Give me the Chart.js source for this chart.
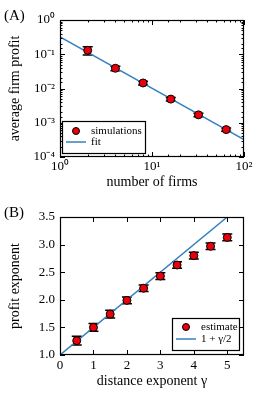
<!DOCTYPE html>
<html>
<head>
<meta charset="utf-8">
<script src="https://cdn.jsdelivr.net/npm/chart.js@4/dist/chart.umd.min.js"></script>
<style>
body{margin:0;background:#fff;width:260px;height:395px;position:relative;overflow:hidden;font-family:"Liberation Serif",serif}
.panel{position:absolute;left:0;width:260px}
.lab{position:absolute;left:4px;font-size:15px;line-height:15px}
</style>
</head>
<body>
<div class="panel" style="top:0;height:197px"><canvas id="chartA" width="260" height="197"></canvas></div>
<div class="panel" style="top:197px;height:198px"><canvas id="chartB" width="260" height="198"></canvas></div>
<div class="lab" style="top:8px">(A)</div>
<div class="lab" style="top:205px">(B)</div>
<script>
// panel A: profit vs number of firms
let firms = [2, 4, 8, 16, 32, 64]
let profit = [0.13, 0.039, 0.0145, 0.0049, 0.0017, 0.00063]
let profitErr = [0.035, 0.006, 0.0018, 0.0006, 0.0002, 0.00007]
let fitX = [1, 100]
let fitY = [0.32, 0.00032]

// panel B: profit exponent vs distance exponent
let gammas = [0.5, 1, 1.5, 2, 2.5, 3, 3.5, 4, 4.5, 5]
let exponent = [1.26, 1.5, 1.74, 1.99, 2.21, 2.43, 2.63, 2.8, 2.97, 3.13]
let exponentErr = [0.08, 0.07, 0.07, 0.06, 0.06, 0.06, 0.06, 0.06, 0.06, 0.06]
let lineGamma = [0, 5]
let lineValue = [1, 3.5]

const RED = '#e8000b'
const BLUE = '#3580c0'
Chart.defaults.font.family = '"Liberation Serif", serif'
Chart.defaults.font.size = 13
Chart.defaults.color = '#000'

const sup = {'-': '⁻', '0': '⁰', '1': '¹', '2': '²', '3': '³', '4': '⁴'}
function powLabel(v){
    const e = Math.log10(v)
    if (Math.abs(e - Math.round(e)) > 1e-6) return ''
    return '10' + String(Math.round(e)).split('').map(c => sup[c]).join('')
}

function pts(xs, ys){
    return xs.map((x, i) => ({x: x, y: ys[i]}))
}

// error bars, drawn under the markers
const errorBars = {
    id: 'errorBars',
    beforeDatasetsDraw(chart){
        const ctx = chart.ctx
        const xs = chart.scales.x, ys = chart.scales.y
        ctx.save()
        ctx.strokeStyle = '#000'
        ctx.lineWidth = 1.5
        chart.data.datasets.forEach(ds => {
            if (!ds.errors) return
            ds.data.forEach((p, j) => {
                const px = xs.getPixelForValue(p.x)
                const lo = ys.getPixelForValue(p.y - ds.errors[j])
                const hi = ys.getPixelForValue(p.y + ds.errors[j])
                ctx.beginPath()
                ctx.moveTo(px, lo); ctx.lineTo(px, hi)
                ctx.moveTo(px - 5, lo); ctx.lineTo(px + 5, lo)
                ctx.moveTo(px - 5, hi); ctx.lineTo(px + 5, hi)
                ctx.stroke()
            })
        })
        ctx.restore()
    }
}

// box frame with inward ticks on all four sides
const frameTicks = {
    id: 'frameTicks',
    afterDatasetsDraw(chart){
        const ctx = chart.ctx
        const a = chart.chartArea
        ctx.save()
        ctx.strokeStyle = '#000'
        ctx.lineWidth = 1
        ctx.beginPath()
        chart.scales.x.ticks.forEach(t => {
            const p = Math.round(chart.scales.x.getPixelForValue(t.value)) + 0.5
            const len = t.label === '' ? 2.5 : 5
            ctx.moveTo(p, a.bottom); ctx.lineTo(p, a.bottom - len)
            ctx.moveTo(p, a.top); ctx.lineTo(p, a.top + len)
        })
        chart.scales.y.ticks.forEach(t => {
            const p = Math.round(chart.scales.y.getPixelForValue(t.value)) + 0.5
            const len = t.label === '' ? 2.5 : 5
            ctx.moveTo(a.left, p); ctx.lineTo(a.left + len, p)
            ctx.moveTo(a.right, p); ctx.lineTo(a.right - len, p)
        })
        ctx.stroke()
        ctx.lineWidth = 1.2
        ctx.strokeRect(a.left + 0.5, a.top + 0.5, a.width - 1, a.height - 1)
        ctx.restore()
    }
}

// matplotlib-like legend box
const boxLegend = {
    id: 'boxLegend',
    afterDraw(chart, args, opts){
        const ctx = chart.ctx
        ctx.save()
        ctx.fillStyle = '#fff'
        ctx.fillRect(opts.x, opts.y, opts.w, opts.h)
        ctx.strokeStyle = '#000'
        ctx.lineWidth = 1.2
        ctx.strokeRect(opts.x + 0.5, opts.y + 0.5, opts.w, opts.h)
        ctx.font = '11px "Liberation Serif", serif'
        ctx.textBaseline = 'middle'
        chart.data.datasets.forEach((ds, i) => {
            const y = opts.y + opts.rows[i]
            if (ds.showLine) {
                ctx.strokeStyle = ds.borderColor
                ctx.lineWidth = 1.5
                ctx.beginPath()
                ctx.moveTo(opts.x + 4, y); ctx.lineTo(opts.x + 24, y)
                ctx.stroke()
            } else {
                ctx.fillStyle = ds.pointBackgroundColor
                ctx.strokeStyle = '#000'
                ctx.lineWidth = 1
                ctx.beginPath()
                ctx.arc(opts.x + 14, y, 3.5, 0, Math.PI * 2)
                ctx.fill(); ctx.stroke()
            }
            ctx.fillStyle = '#000'
            ctx.fillText(ds.label, opts.x + 29, y)
        })
        ctx.restore()
    }
}

function scatterSet(label, xs, ys, errs){
    return {
        label: label, data: pts(xs, ys), errors: errs, showLine: false,
        pointRadius: 4, pointBackgroundColor: RED, pointBorderColor: '#000', pointBorderWidth: 1
    }
}
function lineSet(label, xs, ys){
    return {
        label: label, data: pts(xs, ys), showLine: true, borderColor: BLUE,
        borderWidth: 1.5, pointRadius: 0
    }
}
function fixW(w){ return s => { s.width = w } }
function fixH(h){ return s => { s.height = h } }

new Chart('chartA', {
    type: 'scatter',
    data: {datasets: [scatterSet('simulations', firms, profit, profitErr), lineSet('fit', fitX, fitY)]},
    options: {
        responsive: false, animation: false, events: [],
        layout: {padding: {top: 20, right: 16, left: 0, bottom: 0}},
        plugins: {legend: {display: false}, tooltip: {enabled: false},
            boxLegend: {x: 62, y: 121, w: 83, h: 32, rows: [10, 21]}},
        scales: {
            x: {type: 'logarithmic', min: 1, max: 100, afterFit: fixH(40),
                grid: {display: false, drawTicks: false}, border: {display: false},
                ticks: {autoSkip: false, maxRotation: 0, padding: 2, callback: powLabel},
                title: {display: true, text: 'number of firms', font: {size: 14}, padding: {top: 0, bottom: 6}}},
            y: {type: 'logarithmic', min: 0.0001, max: 1, afterFit: fixW(60),
                grid: {display: false, drawTicks: false}, border: {display: false},
                ticks: {autoSkip: false, padding: 5, callback: powLabel},
                title: {display: true, text: 'average firm profit', font: {size: 14}, padding: {top: 7, bottom: 0}}}
        }
    },
    plugins: [errorBars, frameTicks, boxLegend]
})

new Chart('chartB', {
    type: 'scatter',
    data: {datasets: [scatterSet('estimate', gammas, exponent, exponentErr), lineSet('1 + γ/2', lineGamma, lineValue)]},
    options: {
        responsive: false, animation: false, events: [],
        layout: {padding: {top: 20, right: 16, left: 0, bottom: 0}},
        plugins: {legend: {display: false}, tooltip: {enabled: false},
            boxLegend: {x: 172, y: 121, w: 67, h: 32, rows: [9, 21]}},
        scales: {
            x: {type: 'linear', min: 0, max: 5.5, afterFit: fixH(40),
                grid: {display: false, drawTicks: false}, border: {display: false},
                ticks: {stepSize: 1, includeBounds: false, maxRotation: 0, padding: 3},
                title: {display: true, text: 'distance exponent γ', font: {size: 14}, padding: {top: 0, bottom: 5}}},
            y: {type: 'linear', min: 1, max: 3.5, afterFit: fixW(60),
                grid: {display: false, drawTicks: false}, border: {display: false},
                ticks: {stepSize: 0.5, padding: 5, callback: v => v.toFixed(1)},
                title: {display: true, text: 'profit exponent', font: {size: 14}, padding: {top: 7, bottom: 0}}}
        }
    },
    plugins: [errorBars, frameTicks, boxLegend]
})
</script>
</body>
</html>
